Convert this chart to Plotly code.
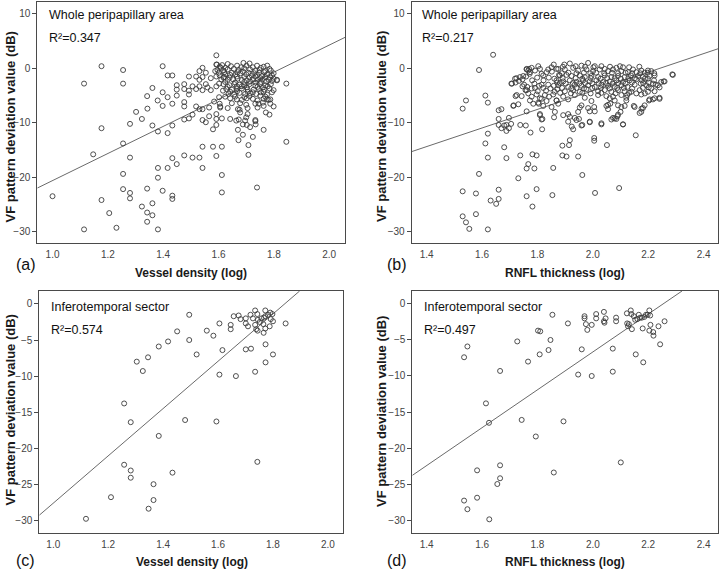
import plotly.graph_objects as go

# ---------------- data ----------------
# Panel (a): whole peripapillary area, vessel density (log) vs VF PD (dB)
a_points = [
    (1.000, -23.5), (1.114, -2.8), (1.114, -29.6), (1.147, -15.8), (1.177, 0.4), (1.177, -11.0),
    (1.177, -24.2), (1.205, -26.6), (1.231, -29.3), (1.255, -0.3), (1.255, -2.8), (1.255, -13.8),
    (1.255, -19.4), (1.255, -22.2), (1.280, -10.2), (1.280, -16.4), (1.280, -22.9), (1.280, -23.9),
    (1.302, -8.0), (1.323, -9.3), (1.323, -25.4), (1.342, -5.1), (1.343, -7.4), (1.342, -22.1),
    (1.342, -26.5), (1.342, -28.2), (1.361, -3.6), (1.361, -10.5), (1.361, -24.8), (1.361, -27.0),
    (1.380, -5.9), (1.381, -11.6), (1.381, -20.1), (1.381, -18.3), (1.381, -29.6), (1.398, 0.4),
    (1.398, -4.4), (1.398, -6.9), (1.398, -22.5), (1.416, -1.3), (1.416, -5.3), (1.416, -11.9),
    (1.416, -18.3), (1.433, -1.3), (1.433, -6.5), (1.433, -10.5), (1.433, -16.5), (1.433, -23.4),
    (1.433, -24.0), (1.449, -3.1), (1.449, -3.9), (1.449, -5.0), (1.449, -17.6), (1.476, -2.9),
    (1.476, -3.8), (1.476, -6.2), (1.476, -7.0), (1.476, -9.4), (1.476, -16.0), (1.493, -1.5),
    (1.493, -4.1), (1.493, -4.8), (1.493, -9.2), (1.506, -3.3), (1.506, -8.5), (1.506, -16.4),
    (1.519, -7.0), (1.519, -3.8), (1.519, -1.5), (1.531, -0.5), (1.531, -2.1), (1.531, -3.3),
    (1.531, -7.5), (1.531, -16.4), (1.542, 0.1), (1.542, -1.6), (1.542, -4.0), (1.542, -7.5),
    (1.542, -9.5), (1.542, -14.4), (1.542, -18.3), (1.554, -0.8), (1.554, -2.9), (1.554, -9.9),
    (1.560, -3.5), (1.566, -7.2), (1.566, -8.8), (1.572, -1.8), (1.572, -4.0), (1.580, -11.2),
    (1.580, -14.4), (1.584, -6.1), (1.588, -0.5), (1.592, 2.4), (1.592, 0.7), (1.592, -1.5),
    (1.592, -3.3), (1.592, -8.4), (1.592, -9.3), (1.592, -10.4), (1.592, -16.1), (1.602, -5.3),
    (1.602, -2.8), (1.606, -7.0), (1.608, 0.1), (1.612, -9.2), (1.612, -14.4), (1.612, -19.6),
    (1.612, -22.8), (1.616, -4.1), (1.618, -1.7),
    (1.642, -9.3), (1.664, -9.6), (1.670, -7.5), (1.670, -11.3), (1.672, -13.2), (1.688, -10.3),
    (1.688, -12.2), (1.696, -9.6), (1.702, -10.4), (1.708, -14.1), (1.708, -15.9), (1.714, -10.8),
    (1.724, -12.6), (1.733, -9.5), (1.734, -10.3), (1.739, -21.9), (1.763, -11.3), (1.771, -8.1),
    (1.784, -8.5), (1.799, -7.0), (1.811, -2.2), (1.845, -2.8), (1.845, -13.5), (1.745, -6.5),
    (1.763, -6.9), (1.775, -5.7), (1.787, -5.7), (1.799, -4.0),
    (1.594, 0.7), (1.613, 0.6), (1.633, 0.8), (1.690, 1.0), (1.712, 0.9), (1.739, 0.5), (1.763, 0.3),
    (1.784, -0.1), (1.604, 0.3), (1.625, 0.1), (1.645, 0.4), (1.667, 0.5), (1.682, 0.2), (1.701, 0.5),
    (1.724, 0.2), (1.753, 0.1), (1.776, 0.5), (1.596, -0.3), (1.617, -0.4), (1.633, -0.2),
    (1.655, -0.1), (1.673, -0.3), (1.693, 0.0), (1.714, -0.2), (1.733, -0.4), (1.748, -0.3),
    (1.769, -0.5), (1.789, -0.4), (1.601, -0.8), (1.621, -0.7), (1.648, -0.8), (1.669, -0.7),
    (1.688, -0.6), (1.708, -0.8), (1.729, -0.9), (1.747, -0.8), (1.765, -0.7), (1.799, -0.9),
    (1.604, -1.3), (1.624, -1.1), (1.642, -1.2), (1.661, -1.1), (1.679, -0.9), (1.700, -1.1),
    (1.720, -1.3), (1.739, -1.2), (1.757, -1.4), (1.775, -1.1), (1.793, -1.3), (1.811, -2.1),
    (1.620, -1.6), (1.640, -1.7), (1.666, -1.5), (1.693, -1.6), (1.712, -1.7), (1.733, -1.5),
    (1.751, -1.8), (1.769, -1.6), (1.787, -1.7), (1.610, -2.0), (1.633, -2.1), (1.652, -2.0),
    (1.669, -1.9), (1.684, -2.1), (1.702, -2.2), (1.724, -2.0), (1.741, -2.1), (1.760, -2.0),
    (1.781, -2.1), (1.799, -1.9), (1.624, -2.5), (1.660, -2.6), (1.693, -2.5), (1.714, -2.4),
    (1.733, -2.6), (1.753, -2.5), (1.772, -2.4), (1.793, -2.3), (1.618, -2.9), (1.640, -3.1),
    (1.657, -2.9), (1.676, -3.0), (1.693, -3.1), (1.712, -2.9), (1.733, -3.2), (1.751, -2.9),
    (1.769, -3.1), (1.789, -2.9), (1.633, -3.4), (1.666, -3.3), (1.684, -3.3), (1.702, -3.5),
    (1.741, -3.4), (1.760, -3.5), (1.778, -3.3), (1.628, -3.8), (1.648, -3.9), (1.666, -3.8),
    (1.684, -3.7), (1.705, -3.9), (1.727, -3.9), (1.746, -3.8), (1.765, -3.9), (1.784, -3.7),
    (1.642, -4.3), (1.667, -4.2), (1.705, -4.3), (1.724, -4.4), (1.763, -4.3), (1.636, -4.7),
    (1.657, -4.8), (1.676, -4.5), (1.696, -4.7), (1.714, -4.6), (1.736, -4.7), (1.753, -4.4),
    (1.775, -4.8), (1.793, -4.4), (1.624, -5.2), (1.660, -5.2), (1.693, -5.3), (1.712, -5.1),
    (1.751, -5.0), (1.769, -5.2), (1.642, -5.5), (1.666, -5.7), (1.684, -5.8), (1.702, -5.5),
    (1.724, -5.6), (1.741, -5.9), (1.763, -5.6), (1.781, -5.8), (1.604, -6.5), (1.648, -6.4),
    (1.678, -6.4), (1.700, -6.7), (1.733, -6.5), (1.760, -6.3), (1.787, -6.5), (1.606, -7.2),
    (1.633, -7.3), (1.676, -7.6), (1.705, -7.3), (1.741, -7.2), (1.678, -8.1), (1.705, -8.4),
    (1.673, -9.4), (1.700, -9.0), (1.733, -9.7),
]
a_fit_x = [0.945, 2.057]
a_fit_y = [-22.0, 5.7]

# Panel (b): whole peripapillary area, RNFL thickness (log) vs VF PD (dB)
b_points = [
    (1.640, 2.5), (1.589, -0.3), (1.530, -7.4), (1.542, -5.9), (1.612, -5.0), (1.621, -6.3),
    (1.612, -13.8), (1.621, -12.0), (1.621, -16.4), (1.589, -19.4), (1.530, -22.6), (1.530, -27.2),
    (1.542, -28.3), (1.554, -29.5), (1.578, -23.0), (1.578, -26.8), (1.621, -29.6), (1.631, -24.3),
    (1.651, -24.9), (1.660, -22.3), (1.660, -24.0), (1.660, -7.7), (1.670, -7.5), (1.660, -9.3),
    (1.660, -10.4), (1.670, -11.0), (1.680, -10.5), (1.688, -11.5), (1.688, -10.4), (1.680, -14.5),
    (1.688, -16.5), (1.697, -9.1), (1.697, -11.0), (1.705, -10.2), (1.708, -2.8), (1.714, -6.8),
    (1.721, -2.6), (1.721, -5.1), (1.724, -1.8), (1.731, -20.2), (1.738, -10.4), (1.738, -16.0),
    (1.746, -2.0), (1.746, -3.3), (1.758, -10.5), (1.759, -1.5), (1.761, -0.1), (1.761, -4.0),
    (1.761, -18.4), (1.761, -23.5), (1.767, -0.4), (1.767, -17.6), (1.773, -0.7), (1.773, -5.9),
    (1.775, -11.8), (1.782, -25.4), (1.782, -15.8), (1.789, -18.4), (1.797, -16.0), (1.797, -22.2),
    (1.805, -6.5), (1.809, -8.4), (1.815, -9.4), (1.815, -5.6), (1.817, -11.2), (1.857, -18.3),
    (1.854, -23.3), (1.860, -9.0), (1.890, -14.2), (1.890, -16.0), (1.905, -16.2), (1.914, -14.1),
    (1.917, -13.2), (1.911, -8.4), (1.924, -10.7), (1.929, -11.2), (1.947, -16.2), (1.950, -9.3),
    (1.953, -7.2), (1.962, -19.6), (1.962, -10.4), (1.989, -7.9), (1.989, -9.8), (2.005, -12.8),
    (2.005, -13.3), (2.005, -7.1), (2.008, -22.9), (2.031, -10.1), (2.051, -14.1), (2.055, -6.7),
    (2.061, -5.5), (2.063, -6.5), (2.067, -9.4), (2.079, -9.2), (2.089, -8.8), (2.095, -22.0),
    (2.100, -8.0), (2.109, -10.3), (2.115, -6.9), (2.124, -4.9), (2.148, -6.9), (2.155, -12.3),
    (2.169, -8.2), (2.176, -7.4), (2.203, -5.9), (2.217, -5.7), (2.241, -5.6), (2.256, -2.4),
    (2.287, -1.1), (2.241, -3.5), (2.227, -3.0),
    (1.706, -2.8), (1.719, -1.9), (1.737, -1.6), (1.749, -1.4), (1.761, -0.2), (1.770, -0.1),
    (1.779, 0.1), (1.791, -0.4), (1.803, 0.4), (1.809, -0.1), (1.815, -1.0), (1.821, -1.3),
    (1.833, -0.7), (1.839, -0.2), (1.851, 0.2), (1.859, 0.7), (1.869, -0.1), (1.878, -1.2),
    (1.763, -3.4), (1.779, -3.7), (1.791, -3.6), (1.806, -3.2), (1.815, -3.0), (1.821, -3.6),
    (1.839, -3.0), (1.847, -3.7), (1.859, -3.2), (1.871, -2.6), (1.725, -4.9), (1.743, -5.1),
    (1.767, -4.6), (1.779, -5.2), (1.797, -4.8), (1.809, -5.5), (1.827, -4.9), (1.842, -5.2),
    (1.857, -4.8), (1.869, -5.9), (1.875, -6.5), (1.761, -7.9), (1.785, -6.5), (1.803, -6.3),
    (1.821, -6.9), (1.833, -6.0), (1.851, -7.1), (1.863, -8.0), (1.713, -6.9), (1.731, -6.6),
    (1.809, -8.6), (1.818, -9.3),
    (1.772, -1.0), (1.781, -2.2), (1.799, -1.7), (1.822, -2.2), (1.841, -1.7), (1.861, -1.9),
    (1.789, -2.8), (1.831, -4.1), (1.862, -4.3), (1.801, -4.2), (1.852, -0.6), (1.872, -3.8),
    (1.752, -3.0), (1.733, -2.3), (1.757, -4.0),
    (1.897, 0.7), (1.917, 0.9), (1.959, 0.5), (1.983, 1.0), (2.007, 0.4), (2.043, -0.1),
    (2.085, 0.1), (2.109, 0.2), (2.145, -0.2), (2.175, -0.4), (2.199, -0.4), (1.875, -0.1),
    (1.899, -0.2), (1.929, 0.1), (1.947, -0.4), (1.977, -0.2), (2.001, -0.5), (2.025, -0.2),
    (2.055, -0.5), (2.073, -0.2), (2.103, -0.5), (2.127, -0.7), (2.157, -0.7), (2.187, -0.8),
    (2.211, -0.5), (2.289, -1.2), (1.881, -1.3), (1.905, -1.2), (1.923, -1.4), (1.953, -1.3),
    (1.971, -1.6), (1.995, -1.4), (2.019, -1.6), (2.043, -1.3), (2.067, -1.6), (2.091, -1.4),
    (2.115, -1.6), (2.137, -1.3), (2.163, -1.4), (2.181, -1.6), (2.205, -1.4), (2.223, -1.3),
    (1.869, -2.2), (1.893, -2.4), (1.917, -2.2), (1.941, -2.5), (1.965, -2.2), (1.989, -2.4),
    (2.013, -2.2), (2.037, -2.5), (2.061, -2.4), (2.085, -2.2), (2.109, -2.5), (2.133, -2.2),
    (2.157, -2.0), (2.177, -2.2), (2.199, -1.9), (2.221, -2.2), (1.875, -3.1), (1.911, -3.4),
    (1.935, -3.0), (1.959, -3.2), (1.983, -3.1), (2.007, -3.4), (2.031, -3.0), (2.055, -3.2),
    (2.079, -3.4), (2.103, -3.1), (2.125, -3.4), (2.151, -3.0), (2.173, -2.8), (2.193, -3.1),
    (2.217, -2.8), (2.247, -2.5), (1.899, -4.2), (1.929, -4.0), (1.953, -4.3), (1.977, -3.8),
    (2.019, -4.2), (2.043, -4.0), (2.067, -4.3), (2.091, -4.0), (2.115, -4.2), (2.139, -4.3),
    (2.169, -4.0), (2.211, -3.7), (2.235, -3.1), (2.259, -2.4), (1.893, -5.2), (1.935, -4.9),
    (1.971, -5.4), (2.019, -4.9), (2.049, -5.1), (2.073, -5.2), (2.103, -4.9), (2.121, -5.4),
    (2.157, -4.6), (2.175, -4.8), (2.199, -4.3), (2.223, -4.2), (1.869, -5.9), (1.911, -5.7),
    (1.995, -6.0), (2.079, -5.9), (2.121, -5.9), (2.205, -5.7), (2.223, -5.5), (2.241, -5.4),
    (1.959, -6.8), (1.983, -7.3), (2.049, -6.9), (2.091, -6.8), (2.103, -7.1), (2.151, -7.1),
    (2.181, -7.3), (2.187, -6.8), (1.947, -8.0), (2.007, -7.9), (2.055, -7.5), (2.091, -8.5),
    (2.175, -8.0), (1.893, -8.6), (1.917, -8.9), (1.935, -9.1), (2.073, -9.1), (2.085, -9.3),
    (1.911, -9.8), (1.941, -9.5), (1.959, -10.5), (1.989, -9.9), (2.031, -10.3), (2.109, -10.3),
    (1.892, 0.3), (1.938, 0.4), (1.972, 0.3), (2.002, 0.2), (2.031, 0.4), (2.062, 0.3),
    (2.098, 0.4), (2.131, 0.2), (2.168, 0.3), (1.888, -0.9), (1.912, -0.8), (1.941, -0.9),
    (1.968, -0.8), (1.991, -0.9), (2.012, -0.8), (2.041, -0.9), (2.069, -0.8), (2.091, -0.9),
    (2.118, -0.8), (2.142, -0.9), (2.171, -0.9), (2.198, -0.8), (2.222, -0.9), (1.891, -1.8),
    (1.938, -1.8), (1.962, -1.9), (1.992, -1.8), (2.028, -1.9), (2.052, -1.8), (2.079, -1.8),
    (2.101, -1.9), (2.128, -1.8), (2.152, -1.8), (2.188, -1.9), (1.881, -2.7), (1.902, -2.8),
    (1.928, -2.7), (1.951, -2.8), (1.972, -2.7), (1.998, -2.8), (2.021, -2.7), (2.048, -2.7),
    (2.071, -2.8), (2.092, -2.7), (2.118, -2.8), (2.141, -2.6), (2.182, -2.7), (2.202, -2.6),
    (1.889, -3.6), (1.922, -3.7), (1.941, -3.6), (1.968, -3.7), (1.998, -3.6), (2.029, -3.6),
    (2.061, -3.7), (2.088, -3.6), (2.112, -3.6), (2.142, -3.7), (2.181, -3.6), (2.202, -3.5),
    (1.882, -4.5), (1.921, -4.6), (1.962, -4.5), (1.992, -4.6), (2.031, -4.5), (2.082, -4.6),
    (2.131, -4.5), (2.188, -4.6),
]
b_fit_x = [1.346, 2.452]
b_fit_y = [-15.3, 3.6]

# Panel (c): inferotemporal sector, vessel density (log) vs VF PD (dB)
c_points = [
    (1.119, -29.8), (1.210, -26.8), (1.258, -13.8), (1.258, -22.3), (1.282, -16.4), (1.282, -23.1),
    (1.282, -24.1), (1.304, -8.0), (1.326, -9.3), (1.345, -7.4), (1.347, -28.4), (1.365, -25.0),
    (1.365, -27.2), (1.384, -5.9), (1.384, -18.3), (1.418, -5.2), (1.434, -23.4), (1.451, -3.8),
    (1.480, -16.1), (1.495, -1.5), (1.495, -5.0), (1.522, -7.0), (1.559, -3.7), (1.583, -4.4),
    (1.594, -16.3), (1.605, -2.7), (1.605, -9.8), (1.616, -6.4), (1.646, -2.9), (1.646, -3.5),
    (1.657, -1.7), (1.665, -10.0), (1.675, -1.6), (1.682, -2.1), (1.701, -2.0), (1.701, -2.7),
    (1.701, -6.3), (1.709, -3.1), (1.718, -1.5), (1.720, -6.2), (1.727, -2.0), (1.735, -0.9),
    (1.735, -9.4), (1.739, -3.5), (1.735, -2.9), (1.743, -1.4), (1.745, -2.2), (1.744, -3.7),
    (1.743, -21.9), (1.752, -2.5), (1.758, -2.0), (1.765, -2.8), (1.766, -4.0), (1.767, -1.9),
    (1.772, -0.9), (1.772, -1.7), (1.772, -3.4), (1.773, -5.6), (1.773, -8.1), (1.782, -1.5),
    (1.788, -3.1), (1.790, -1.2), (1.792, -2.1), (1.798, -1.4), (1.800, -2.4), (1.800, -7.0),
    (1.846, -2.7),
]
c_fit_x = [0.949, 1.897]
c_fit_y = [-29.3, 1.8]

# Panel (d): inferotemporal sector, RNFL thickness (log) vs VF PD (dB)
d_points = [
    (1.535, -7.4), (1.547, -5.9), (1.535, -27.3), (1.547, -28.5), (1.582, -23.1), (1.582, -26.9),
    (1.614, -13.8), (1.625, -16.5), (1.626, -29.9), (1.655, -25.0), (1.665, -9.3), (1.665, -22.4),
    (1.665, -24.2), (1.727, -5.2), (1.743, -16.1), (1.766, -8.0), (1.794, -18.4), (1.802, -3.7),
    (1.810, -3.8), (1.808, -7.0), (1.840, -6.4), (1.847, -5.0), (1.854, -1.5), (1.859, -23.4),
    (1.894, -16.3), (1.910, -2.7), (1.947, -9.8), (1.960, -6.3), (1.970, -1.7), (1.970, -2.0),
    (1.975, -2.8), (1.980, -3.6), (1.996, -2.9), (1.996, -10.0), (2.012, -1.4), (2.012, -2.0),
    (2.040, -1.1), (2.040, -2.4), (2.042, -2.6), (2.046, -2.0), (2.072, -6.2), (2.072, -9.4),
    (2.084, -1.9), (2.084, -2.4), (2.123, -1.3), (2.124, -2.7), (2.127, -3.1), (2.130, -2.8),
    (2.137, -0.9), (2.139, -1.4), (2.141, -3.5), (2.148, -1.7), (2.153, -2.2), (2.155, -7.0),
    (2.161, -2.1), (2.166, -1.5), (2.171, -1.9), (2.177, -1.9), (2.180, -3.4), (2.182, -8.1),
    (2.186, -1.8), (2.192, -1.5), (2.198, -1.5), (2.204, -0.9), (2.204, -3.7), (2.207, -1.6),
    (2.208, -2.9), (2.218, -3.9), (2.219, -4.4), (2.237, -3.1), (2.243, -5.6), (2.259, -2.4),
    (2.101, -22.0),
]
d_fit_x = [1.348, 2.322]
d_fit_y = [-23.8, 1.8]

# axis ranges / ticks
a_xrange, a_yrange = [0.945, 2.057], [-32.1, 12.2]
b_xrange, b_yrange = [1.346, 2.452], [-32.1, 12.2]
c_xrange, c_yrange = [0.949, 2.055], [-31.7, 1.8]
d_xrange, d_yrange = [1.348, 2.452], [-31.8, 1.8]
vd_ticks = [1.0, 1.2, 1.4, 1.6, 1.8, 2.0]
rnfl_ticks = [1.4, 1.6, 1.8, 2.0, 2.2, 2.4]
top_yticks = [-30, -20, -10, 0, 10]
bottom_yticks = [-30, -25, -20, -15, -10, -5, 0]

region_labels = ["Whole peripapillary area", "Whole peripapillary area",
                 "Inferotemporal sector", "Inferotemporal sector"]
r2_values = ["0.347", "0.217", "0.574", "0.497"]
x_titles = ["Vessel density (log)", "RNFL thickness (log)",
            "Vessel density (log)", "RNFL thickness (log)"]
y_title = "VF pattern deviation value (dB)"
panel_labels = ["(a)", "(b)", "(c)", "(d)"]

# ---------------- layout geometry ----------------
W, H = 720, 571
FONT = "Liberation Sans"
AX = "#4a4a4a"


def px(x):
    return x / W


def py(y):
    return 1 - y / H


boxes = [  # left, right, top, bottom in px
    (37.3, 345, 2, 243),
    (411.7, 718, 2, 243),
    (39.3, 343, 291, 532.5),
    (412.3, 718, 291, 533),
]

panels = [
    (a_points, a_fit_x, a_fit_y, a_xrange, a_yrange, vd_ticks, top_yticks),
    (b_points, b_fit_x, b_fit_y, b_xrange, b_yrange, rnfl_ticks, top_yticks),
    (c_points, c_fit_x, c_fit_y, c_xrange, c_yrange, vd_ticks, bottom_yticks),
    (d_points, d_fit_x, d_fit_y, d_xrange, d_yrange, rnfl_ticks, bottom_yticks),
]

fig = go.Figure()
layout = dict(
    width=W, height=H, margin=dict(l=0, r=0, t=0, b=0),
    paper_bgcolor="white", plot_bgcolor="white", showlegend=False,
    font=dict(family=FONT, color="#222"),
)

for i, (pts, fx, fy, xr, yr, xt, yt) in enumerate(panels):
    n = "" if i == 0 else str(i + 1)
    xs = [p[0] for p in pts]
    ys = [p[1] for p in pts]
    fig.add_trace(go.Scatter(
        x=fx, y=fy, mode="lines", xaxis="x" + n, yaxis="y" + n,
        line=dict(color="#6a6a6a", width=1), hoverinfo="skip"))
    fig.add_trace(go.Scatter(
        x=xs, y=ys, mode="markers", xaxis="x" + n, yaxis="y" + n,
        marker=dict(symbol="circle-open", size=5, color="#3c3c3c",
                    line=dict(width=0.9, color="#3c3c3c"))))
    l, r, t, b = boxes[i]
    layout["xaxis" + n] = dict(
        domain=[px(l), px(r)], range=xr, anchor="y" + n,
        showline=True, mirror=True, linecolor=AX, linewidth=1,
        showgrid=False, zeroline=False, ticks="", tickvals=xt,
        ticktext=["%.1f" % v for v in xt], ticklabelstandoff=2,
        tickfont=dict(size=10, color="#444", family=FONT))
    layout["yaxis" + n] = dict(
        domain=[py(b), py(t)], range=yr, anchor="x" + n,
        showline=True, mirror=True, linecolor=AX, linewidth=1,
        showgrid=False, zeroline=False, ticks="outside", ticklen=4,
        tickcolor=AX, tickvals=yt,
        tickfont=dict(size=10, color="#444", family=FONT))

annotations = []
ytitle_pos = [(9.5, 127), (381, 127), (9.5, 410), (381, 412)]
xtitle_pos = [(191, 273), (565, 273), (191.5, 562), (565, 562)]
plabel_pos = [(26, 264), (397, 264), (26, 560), (397, 560)]
inner_pos = [(46.5, 15, 38), (420, 15, 38), (48.7, 306.5, 329.5), (421.7, 306.5, 329.5)]

for i in range(4):
    annotations.append(dict(
        text=y_title, textangle=-90, x=px(ytitle_pos[i][0]), y=py(ytitle_pos[i][1]),
        xref="paper", yref="paper", showarrow=False, xanchor="center", yanchor="middle",
        font=dict(size=13, color="#1a1a1a", family=FONT, weight="bold")))
    annotations.append(dict(
        text=x_titles[i], x=px(xtitle_pos[i][0]), y=py(xtitle_pos[i][1]),
        xref="paper", yref="paper", showarrow=False, xanchor="center", yanchor="middle",
        font=dict(size=12, color="#1a1a1a", family=FONT, weight="bold")))
    annotations.append(dict(
        text=panel_labels[i], x=px(plabel_pos[i][0]), y=py(plabel_pos[i][1]),
        xref="paper", yref="paper", showarrow=False, xanchor="center", yanchor="middle",
        font=dict(size=16, color="#111", family=FONT)))
    ix, iy1, iy2 = inner_pos[i]
    annotations.append(dict(
        text=region_labels[i], x=px(ix), y=py(iy1),
        xref="paper", yref="paper", showarrow=False, xanchor="left", yanchor="middle",
        font=dict(size=12.5, color="#111", family=FONT)))
    annotations.append(dict(
        text="R\u00b2=" + r2_values[i], x=px(ix), y=py(iy2),
        xref="paper", yref="paper", showarrow=False, xanchor="left", yanchor="middle",
        font=dict(size=12.5, color="#111", family=FONT)))

layout["annotations"] = annotations
fig.update_layout(**layout)
fig.write_html("out.html", config={"displayModeBar": False},
               post_script="document.body.style.margin='0px';document.body.style.padding='0px';")
